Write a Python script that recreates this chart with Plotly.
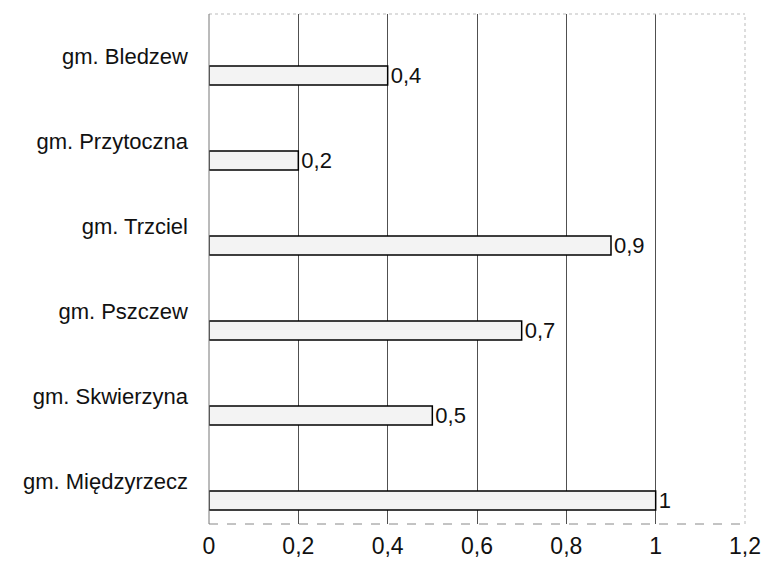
import plotly.graph_objects as go

categories = ["gm. Międzyrzecz", "gm. Skwierzyna", "gm. Pszczew", "gm. Trzciel", "gm. Przytoczna", "gm. Bledzew"]
values = [1.0, 0.5, 0.7, 0.9, 0.2, 0.4]
x_ticks = [0, 0.2, 0.4, 0.6, 0.8, 1.0, 1.2]
x_tick_labels = ["0", "0,2", "0,4", "0,6", "0,8", "1", "1,2"]
value_labels = ["1", "0,5", "0,7", "0,9", "0,2", "0,4"]

font = "Liberation Sans, Arial, sans-serif"

fig = go.Figure()
fig.add_trace(go.Bar(
    y=categories, x=values, orientation="h",
    width=0.2235, offset=-0.335,
    marker=dict(color="#f3f3f3", line=dict(color="#000000", width=1.5)),
    text=value_labels, textposition="outside", cliponaxis=False,
    constraintext="none",
    textfont=dict(family=font, size=22, color="#111111"),
    hoverinfo="skip",
))

fig.update_layout(
    width=763, height=569,
    margin=dict(l=209, r=18, t=14, b=45),
    plot_bgcolor="white", paper_bgcolor="white",
    showlegend=False,
    font=dict(family=font, size=22, color="#111111"),
    xaxis=dict(range=[0, 1.2], tickvals=x_ticks, ticktext=x_tick_labels,
               showgrid=True, gridcolor="#505050", gridwidth=1,
               zeroline=False, showline=False, ticks="", ticklen=0,
               ticklabelstandoff=6, ticklabeloverflow="allow",
               tickfont=dict(size=23), automargin=False),
    yaxis=dict(type="category", categoryorder="array", categoryarray=categories,
               range=[-0.5, 5.5], showgrid=False, zeroline=False, showline=False,
               ticks="", ticklabelstandoff=20, tickfont=dict(size=22), automargin=False),
    bargap=0,
)

# plot border: dotted light gray top/right, dashed bottom, solid gray left
fig.add_shape(type="line", xref="paper", yref="paper", x0=0, x1=1, y0=1, y1=1,
              line=dict(color="#bbbbbb", width=1, dash="dot"))
fig.add_shape(type="line", xref="paper", yref="paper", x0=1, x1=1, y0=0, y1=1,
              line=dict(color="#bbbbbb", width=1, dash="dot"))
fig.add_shape(type="line", xref="paper", yref="paper", x0=0, x1=1, y0=0, y1=0,
              line=dict(color="#888888", width=1, dash="dash"))
fig.add_shape(type="line", xref="paper", yref="paper", x0=0, x1=0, y0=0, y1=1,
              line=dict(color="#777777", width=1))

# remove the default page margin so the figure fills the window exactly
fig.write_html("out.html",
               config={"displayModeBar": False, "staticPlot": True},
               post_script="document.body.style.margin='0';document.body.style.overflow='hidden';")
